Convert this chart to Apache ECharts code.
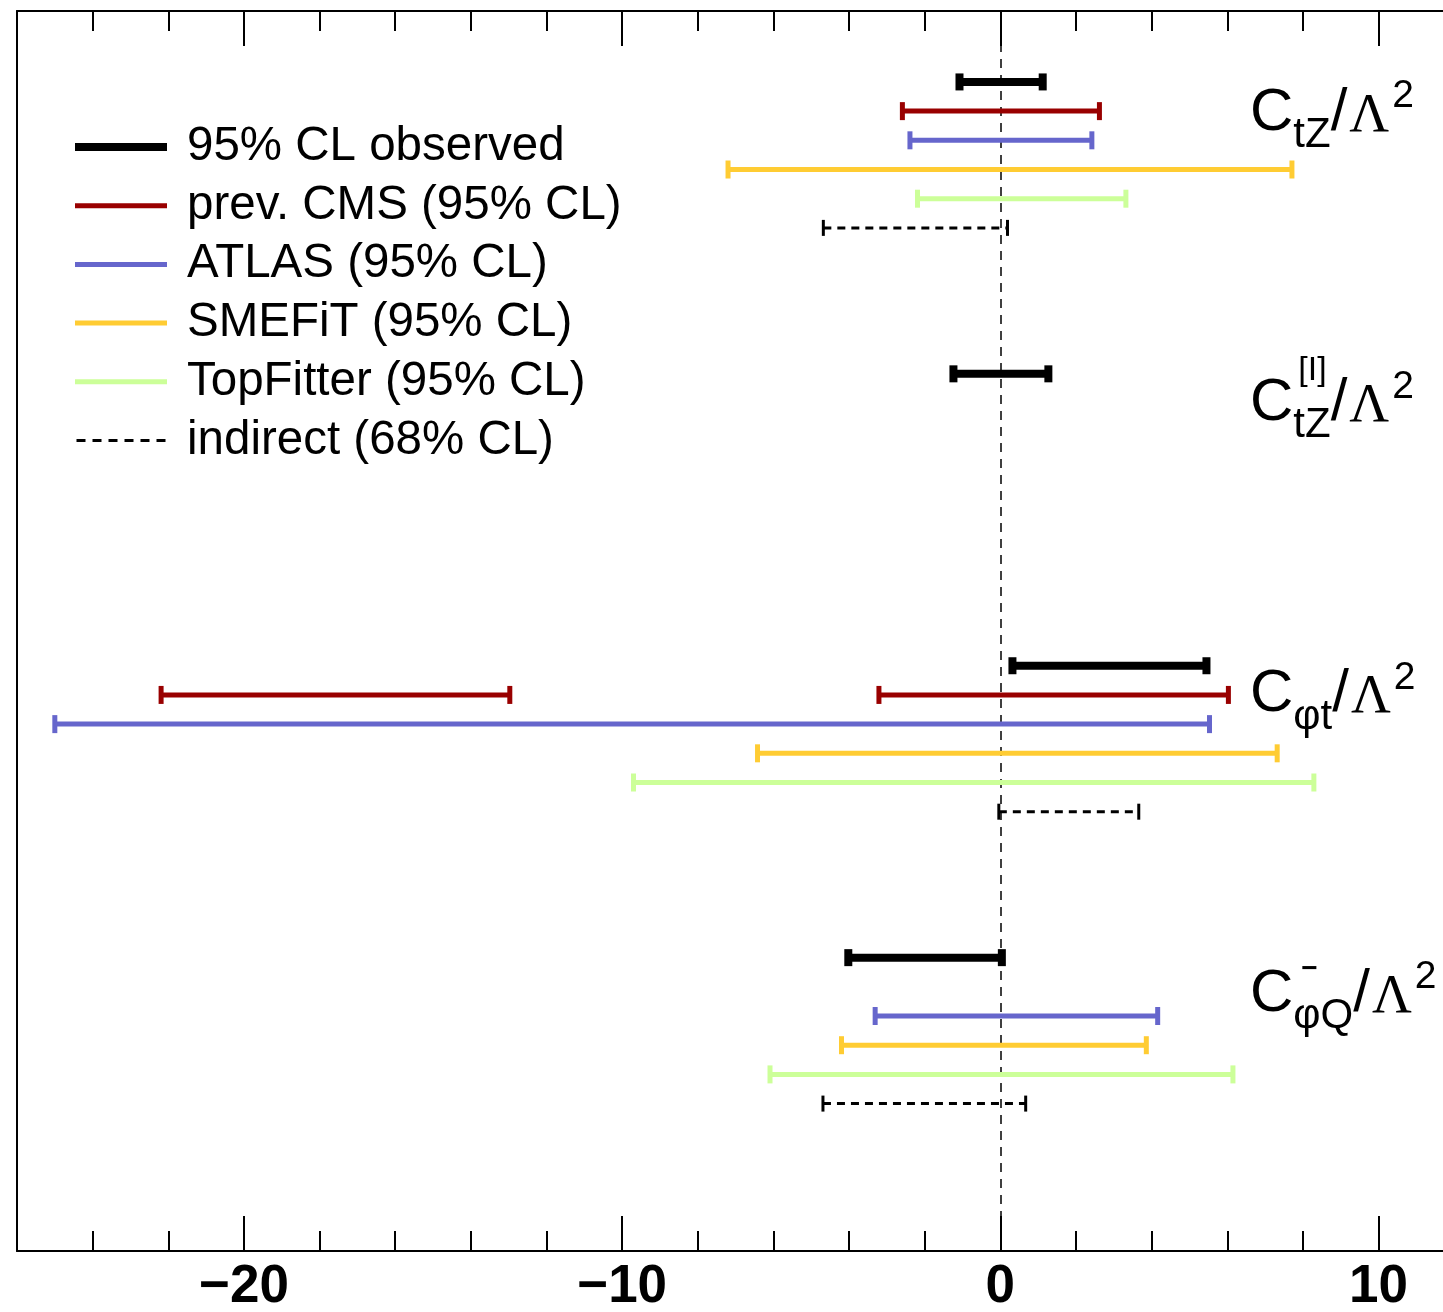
<!DOCTYPE html>
<html><head><meta charset="utf-8">
<script src="https://cdn.jsdelivr.net/npm/echarts@6/dist/echarts.min.js"></script>
<style>html,body{margin:0;padding:0;background:#fff;overflow:hidden}#c{width:1465px;height:1312px}</style>
</head><body><div id="c"></div>
<script>
// ---------------- data ----------------
const paramSub   = ['tZ', 'tZ', 'φt', 'φQ'];   // coefficient subscripts
const paramUpper = ['', '[I]', '', '−'];        // coefficient superscripts
const seriesNames = ['95% CL observed', 'prev. CMS (95% CL)', 'ATLAS (95% CL)',
                     'SMEFiT (95% CL)', 'TopFitter (95% CL)', 'indirect (68% CL)'];
// intervals per coefficient: [lower, upper]
const observed  = [[[-1.08, 1.12]], [[-1.24, 1.27]], [[0.32, 5.45]], [[-4.02, 0.04]]];
const prevCMS   = [[[-2.59, 2.62]], [], [[-22.19, -12.97], [-3.21, 6.03]], []];
const atlas     = [[[-2.39, 2.42]], [], [[-25.0, 5.53]], [[-3.31, 4.16]]];
const smefit    = [[[-7.20, 7.71]], [], [[-6.42, 7.32]], [[-4.20, 3.86]]];
const topfitter = [[[-2.19, 3.32]], [], [[-9.70, 8.29]], [[-6.09, 6.15]]];
const indirect  = [[[-4.68, 0.19]], [], [[-0.04, 3.66]], [[-4.69, 0.67]]];
const xTickLabels = [-20, -10, 0, 10];

// ---------------- layout / style ----------------
const allSeries = [observed, prevCMS, atlas, smefit, topfitter, indirect];
const GROUP_STEP = 10;
const styles = [
  {color: '#000000', width: 8, capW: 8, capH: 17, dash: null},
  {color: '#990000', width: 5, capW: 5, capH: 18, dash: null},
  {color: '#6666cc', width: 5, capW: 5, capH: 18, dash: null},
  {color: '#ffcc33', width: 5, capW: 5, capH: 18, dash: null},
  {color: '#ccff99', width: 5, capW: 5, capH: 18, dash: null},
  {color: '#000000', width: 3, capW: 3, capH: 16, dash: [8, 6]}
];
const labelRowShift = [1.07, 1.03, 1.0, 1.25];
const X_MIN = -26, X_MAX = 12.233, Y_MIN = -2.43, Y_MAX = 40.05;
const FONT = 'Liberation Sans, Arial, Helvetica, sans-serif';

function makeRender(st) {
  return function (params, api) {
    const a = api.coord([api.value(0), api.value(2)]);
    const b = api.coord([api.value(1), api.value(2)]);
    const y = a[1];
    return {
      type: 'group',
      children: [
        {type: 'line', shape: {x1: a[0], y1: y, x2: b[0], y2: y},
         style: {stroke: st.color, lineWidth: st.width, lineDash: st.dash, lineCap: 'butt'}},
        {type: 'line', shape: {x1: a[0], y1: y - st.capH / 2, x2: a[0], y2: y + st.capH / 2},
         style: {stroke: st.color, lineWidth: st.capW}},
        {type: 'line', shape: {x1: b[0], y1: y - st.capH / 2, x2: b[0], y2: y + st.capH / 2},
         style: {stroke: st.color, lineWidth: st.capW}}
      ]
    };
  };
}

const series = allSeries.map((arr, s) => {
  const data = [];
  arr.forEach((ints, g) => ints.forEach(iv => data.push([iv[0], iv[1], g * GROUP_STEP + s])));
  return {
    name: seriesNames[s], type: 'custom', xAxisIndex: 0, yAxisIndex: 0,
    renderItem: makeRender(styles[s]), encode: {x: [0, 1], y: 2},
    itemStyle: {color: styles[s].color}, data: data, z: 10 - s
  };
});
series.push({
  type: 'line', data: [], xAxisIndex: 0, yAxisIndex: 0, silent: true,
  markLine: {symbol: 'none', silent: true, label: {show: false},
    lineStyle: {color: '#000', width: 1.5, type: [9, 7]}, data: [{xAxis: 0}]}
});

const solidIcon = 'path://M0,0h92v8h-92z';
const thinIcon = 'path://M0,0M0,8M0,1.5h92v5h-92z';
let dashIcon = 'path://M0,0M0,8';
for (let i = 0; i < 6; i++) dashIcon += 'M' + (i * 16) + ',2.5h9v3h-9z';
const legendIcons = [solidIcon, thinIcon, thinIcon, thinIcon, thinIcon, dashIcon];

const labelRows = paramSub.map((_, g) => g * GROUP_STEP + labelRowShift[g]);
function rowToGroup(v) {
  let best = 0;
  labelRows.forEach((r, g) => { if (Math.abs(r - v) < Math.abs(labelRows[best] - v)) best = g; });
  return best;
}
const rich = {
  c:   {fontSize: 60, fontFamily: FONT, lineHeight: 100, color: '#000'},
  sub: {fontSize: 42, fontFamily: FONT, height: 56, verticalAlign: 'bottom', color: '#000'},
  sl:  {fontSize: 60, fontFamily: FONT, color: '#000'},
  lam: {fontSize: 55, fontFamily: 'Liberation Serif, Times New Roman, serif', height: 94, verticalAlign: 'bottom', color: '#000', padding: [0, 0, 0, 2]},
  sup: {fontSize: 39, fontFamily: FONT, height: 66, verticalAlign: 'top', color: '#000', padding: [0, 0, 0, 3]},
  ct:  {fontSize: 60, fontFamily: FONT, lineHeight: 100, color: 'rgba(0,0,0,0)'},
  up:  {fontSize: 34, fontFamily: FONT, height: 34, verticalAlign: 'top', padding: [0, 0, 0, 5], color: '#000'},
  upm: {fontSize: 28, fontFamily: FONT, fontWeight: 'bold', height: 50, verticalAlign: 'top', padding: [0, 0, 0, 8], color: '#000'}
};

function xAxisBase(pos) {
  return {type: 'value', position: pos, min: X_MIN, max: X_MAX, splitLine: {show: false}};
}
const xAxes = [
  Object.assign(xAxisBase('bottom'), {interval: 2,
    axisLine: {show: true, onZero: false, lineStyle: {color: '#000', width: 2}},
    axisTick: {inside: true, length: 20, lineStyle: {color: '#000', width: 2}},
    axisLabel: {show: false}}),
  Object.assign(xAxisBase('bottom'), {
    axisLine: {show: false, onZero: false},
    axisTick: {inside: true, length: 35, customValues: xTickLabels, lineStyle: {color: '#000', width: 2}},
    axisLabel: {customValues: xTickLabels, fontSize: 53, fontWeight: 'bold', fontFamily: FONT, color: '#000', margin: 10,
      formatter: v => (v < 0 ? '\u2212' + Math.abs(v) : String(v))}}),
  Object.assign(xAxisBase('top'), {interval: 2,
    axisLine: {show: true, onZero: false, lineStyle: {color: '#000', width: 2}},
    axisTick: {inside: true, length: 20, lineStyle: {color: '#000', width: 2}},
    axisLabel: {show: false}}),
  Object.assign(xAxisBase('top'), {
    axisLine: {show: false, onZero: false},
    axisTick: {inside: true, length: 35, customValues: xTickLabels, lineStyle: {color: '#000', width: 2}},
    axisLabel: {show: false}})
];
function yAxisBase() {
  return {type: 'value', inverse: true, min: Y_MIN, max: Y_MAX, splitLine: {show: false},
    axisTick: {show: false}, axisLine: {show: false}};
}
const LABEL_MARGIN = 1463 - 1250;
const yAxes = [
  Object.assign(yAxisBase(), {position: 'left', axisLabel: {show: false},
    axisLine: {show: true, onZero: false, lineStyle: {color: '#000', width: 2}}}),
  Object.assign(yAxisBase(), {position: 'right', axisLabel: {inside: true, align: 'left', margin: LABEL_MARGIN,
    customValues: labelRows, rich: rich,
    formatter: v => { const g = rowToGroup(v); return '{c|C}{sub|' + paramSub[g] + '}{sl|/}{lam|Λ}{sup|2}'; }}}),
  Object.assign(yAxisBase(), {position: 'right', axisLabel: {inside: true, align: 'left', margin: LABEL_MARGIN,
    customValues: labelRows, rich: rich,
    formatter: v => { const g = rowToGroup(v); const u = paramUpper[g];
      if (!u) return ''; return '{ct|C}{' + (u === '[I]' ? 'up' : 'upm') + '|' + u + '}'; }}})
];

const option = {
  animation: false,
  backgroundColor: '#fff',
  grid: {left: 17, right: 2, top: 11, bottom: 61, show: false, outerBoundsMode: 'none', containLabel: false},
  xAxis: xAxes,
  yAxis: yAxes,
  legend: {
    orient: 'vertical', left: 75, top: 123, padding: 0, itemWidth: 92, itemHeight: 8, itemGap: 10.7,
    selectedMode: false,
    textStyle: {fontSize: 47.5, fontFamily: FONT, color: '#000', padding: [0, 0, 0, 15]},
    data: seriesNames.map((n, i) => ({name: n, icon: legendIcons[i], itemStyle: {color: styles[i].color}}))
  },
  series: series
};
const chart = echarts.init(document.getElementById('c'), null, {renderer: 'canvas'});
chart.setOption(option);
</script></body></html>
